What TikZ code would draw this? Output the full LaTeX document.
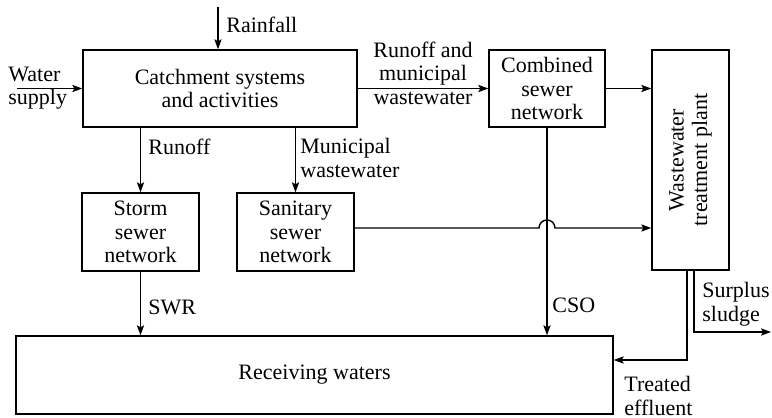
\documentclass[tikz,border=0pt]{standalone}
\usepackage{fontspec}
\setmainfont{Liberation Serif}
\usetikzlibrary{arrows.meta,calc}
\begin{document}
\begin{tikzpicture}[x=0.5pt,y=-0.5pt,
  every node/.style={font=\fontsize{11}{11.8}\selectfont, inner sep=0pt},
  blk/.style={draw, line width=0.7pt, align=center, minimum height=38.5pt},
  lbl/.style={align=left, anchor=west},
  flow/.style={line width=0.7pt, -{Stealth[length=5pt,width=3.6pt,inset=1pt]}},
  plain/.style={line width=0.7pt}]
\useasboundingbox (0,0) rectangle (772,418);

% blocks
\node[blk, minimum width=137pt] (catch) at (220,88.5) {Catchment systems\\and activities};
\node[blk, minimum width=58pt] (comb) at (547,88.5) {Combined\\sewer\\network};
\node[blk, minimum width=38.5pt, minimum height=110pt] (wwtp) at (690.5,160) {};
\node[rotate=90, align=center] (wwtpt) at (wwtp.center) {Wastewater\\treatment plant};
\node[blk, minimum width=58.5pt, minimum height=39pt] (storm) at (140.5,232) {Storm\\sewer\\network};
\node[blk, minimum width=58.5pt, minimum height=39pt] (san) at (295.5,232) {Sanitary\\sewer\\network};
\node[blk, minimum width=298.5pt, minimum height=39pt] (recv) at (314.5,375) {Receiving waters};

% free ends
\coordinate (rain) at (218,7);
\coordinate (water) at (17,88.5);
\coordinate (te) at (687,270);
\coordinate (sl) at (694,270);
\coordinate (slEnd) at (771,332);

% labels
\node[lbl] (lrain) at (226,25) {Rainfall};
\node[lbl] (lwater) at (8,88) {Water\\supply};
\node[align=center] (lrm) at (423,73) {Runoff and\\municipal\\wastewater};
\node[lbl] (lrun) at (148,147) {Runoff};
\node[lbl] (lmun) at (300,158) {Municipal\\wastewater};
\node[lbl] (lswr) at (148,307) {SWR};
\node[lbl] (lcso) at (552,305) {CSO};
\node[lbl] (lsur) at (702,304) {Surplus\\sludge};
\node[lbl] (ltre) at (624,396) {Treated\\effluent};

% connectors
\draw[flow] (rain) -- (rain |- catch.north);
\draw[flow] (water) -- (catch.west);
\draw[flow] (catch.east) -- (comb.west);
\draw[flow] (comb.east) -- (comb.east -| wwtp.west);
\draw[flow] (catch.south -| storm.north) -- (storm.north);
\draw[flow] (catch.south -| san.north) -- (san.north);
% sanitary flow hops over the overflow line
\coordinate (sanout) at ([yshift=2pt]san.east);
\draw[flow] (sanout) -- ($(sanout -| comb.south)+(-8,0)$)
  arc[start angle=180, end angle=0, radius=4pt] -- (sanout -| wwtp.west);
\draw[flow] (comb.south) -- (comb.south |- recv.north);
\draw[flow] (storm.south) -- (storm.south |- recv.north);
\draw[flow] (te) |- ([yshift=7.5pt]recv.east);
\draw[flow] (sl) |- (slEnd);
\end{tikzpicture}
\end{document}
